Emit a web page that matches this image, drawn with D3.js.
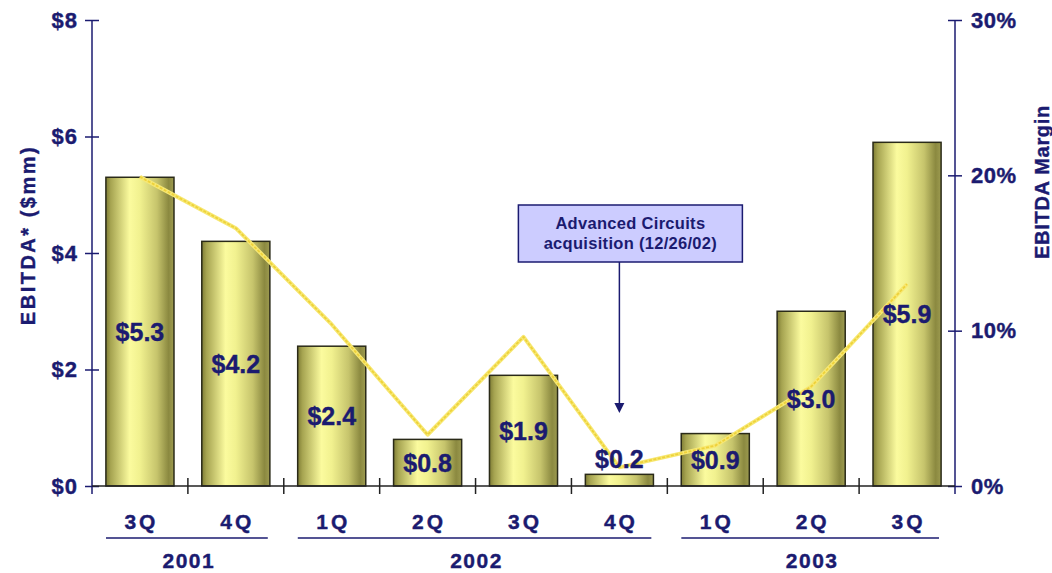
<!DOCTYPE html>
<html>
<head>
<meta charset="utf-8">
<script src="https://cdn.jsdelivr.net/npm/d3@7"></script>
<style>
  html, body { margin: 0; padding: 0; background: #fff; }
  svg { display: block; }
  .heavy { stroke: #1b1b70; stroke-width: 0.4px; }
</style>
</head>
<body>
<div id="chart"></div>
<script>
const quarters = ['3Q', '4Q', '1Q', '2Q', '3Q', '4Q', '1Q', '2Q', '3Q'];
const quarterYears = ['2001', '2001', '2002', '2002', '2002', '2002', '2003', '2003', '2003'];
const ebitda = [5.3, 4.2, 2.4, 0.8, 1.9, 0.2, 0.9, 3.0, 5.9];
const ebitdaMargin = [19.9, 16.6, 10.4, 3.3, 9.6, 1.2, 2.6, 6.4, 13.0];
const ebitdaTicks = [0, 2, 4, 6, 8];
const marginTicks = [0, 10, 20, 30];
const annotationLines = ['Advanced Circuits', 'acquisition (12/26/02)'];
const annotationIndex = 5;

const width = 1052;
const height = 573;
const plot = { left: 92, right: 955, top: 20, bottom: 486 };
const navy = '#1b1b70';
const font = '"Liberation Sans", Arial, Helvetica, sans-serif';

const svg = d3.select('#chart')
  .append('svg')
  .attr('width', width)
  .attr('height', height)
  .style('font-family', font)
  .style('font-weight', 'bold');

const defs = svg.append('defs');
const gradient = defs.append('linearGradient')
  .attr('id', 'bar-gradient')
  .attr('x1', '0%')
  .attr('x2', '100%');

[
  [0, '#7f7d35'], [0.07, '#a6a451'], [0.35, '#fbfb9e'], [0.5, '#f1f18f'],
  [0.75, '#c6c46c'], [0.92, '#8b8940'], [1, '#9d9b50']
].forEach(([offset, color]) => {
  gradient.append('stop').attr('offset', offset).attr('stop-color', color);
});

const x = d3.scaleBand()
  .domain(d3.range(quarters.length))
  .range([plot.left, plot.right])
  .paddingInner(0.29)
  .paddingOuter(0.145);

const y = d3.scaleLinear().domain([0, 8]).range([plot.bottom, plot.top]);
const yMargin = d3.scaleLinear().domain([0, 30]).range([plot.bottom, plot.top]);

const step = x.step();
const bandLeft = (i) => plot.left + i * step;
const center = (i) => x(i) + x.bandwidth() / 2;

// bars
svg.append('g')
  .selectAll('rect')
  .data(ebitda)
  .join('rect')
  .attr('x', (d, i) => x(i))
  .attr('y', (d) => y(d))
  .attr('width', x.bandwidth())
  .attr('height', (d) => y(0) - y(d))
  .attr('fill', 'url(#bar-gradient)')
  .attr('stroke', '#2a2a18')
  .attr('stroke-width', 1.5);

// margin line
const line = d3.line()
  .x((d, i) => center(i))
  .y((d) => yMargin(d));

svg.append('path')
  .datum(ebitdaMargin)
  .attr('fill', 'none')
  .attr('stroke', '#f7e873')
  .attr('stroke-width', 4)
  .attr('stroke-linejoin', 'round')
  .attr('d', line);

svg.append('path')
  .datum(ebitdaMargin)
  .attr('fill', 'none')
  .attr('stroke', '#eed23a')
  .attr('stroke-width', 1.8)
  .attr('stroke-dasharray', '3 1.5')
  .attr('stroke-linejoin', 'round')
  .attr('d', line);

// bar value labels
svg.append('g')
  .selectAll('text')
  .data(ebitda)
  .join('text')
  .attr('class', 'heavy')
  .attr('x', (d, i) => center(i))
  .attr('y', (d) => (y(0) - y(d) < 30 ? y(d) - 15 : (y(d) + y(0)) / 2))
  .attr('text-anchor', 'middle')
  .attr('dominant-baseline', 'central')
  .attr('fill', navy)
  .style('font-size', '25px')
  .text((d) => `$${d.toFixed(1)}`);

// left axis
const axisLeft = svg.append('g')
  .attr('transform', `translate(${plot.left},0)`)
  .call(d3.axisLeft(y).tickValues(ebitdaTicks).tickSize(7).tickSizeOuter(0).tickPadding(7)
    .tickFormat((d) => `$${d}`))
  .attr('font-family', font)
  .attr('font-size', 22);

axisLeft.select('.domain').remove();
axisLeft.selectAll('.tick line').attr('x1', 7).attr('stroke', navy).attr('stroke-width', 1.5);
axisLeft.selectAll('.tick text').attr('fill', navy).attr('class', 'heavy').style('letter-spacing', '1px');

// right axis
const axisRight = svg.append('g')
  .attr('transform', `translate(${plot.right},0)`)
  .call(d3.axisRight(yMargin).tickValues(marginTicks).tickSize(7).tickSizeOuter(0).tickPadding(9)
    .tickFormat((d) => `${d}%`))
  .attr('font-family', font)
  .attr('font-size', 22);

axisRight.select('.domain').remove();
axisRight.selectAll('.tick line').attr('x1', -7).attr('stroke', navy).attr('stroke-width', 1.5);
axisRight.selectAll('.tick text').attr('fill', navy).attr('class', 'heavy').style('letter-spacing', '0.5px');

// axis lines
[plot.left, plot.right].forEach((px) => {
  svg.append('line')
    .attr('x1', px).attr('x2', px)
    .attr('y1', plot.top).attr('y2', plot.bottom + 8)
    .attr('stroke', navy).attr('stroke-width', 1.5);
});

svg.append('line')
  .attr('x1', plot.left).attr('x2', plot.right)
  .attr('y1', plot.bottom).attr('y2', plot.bottom)
  .attr('stroke', '#222').attr('stroke-width', 1.5);

svg.append('g')
  .selectAll('line')
  .data(d3.range(1, quarters.length))
  .join('line')
  .attr('x1', (i) => bandLeft(i))
  .attr('x2', (i) => bandLeft(i))
  .attr('y1', plot.bottom - 8)
  .attr('y2', plot.bottom + 8)
  .attr('stroke', '#222')
  .attr('stroke-width', 1.5);

// quarter labels
svg.append('g')
  .selectAll('text')
  .data(quarters)
  .join('text')
  .attr('class', 'heavy')
  .attr('x', (d, i) => center(i) + 1.5)
  .attr('y', 521)
  .attr('text-anchor', 'middle')
  .attr('dominant-baseline', 'central')
  .attr('fill', navy)
  .style('font-size', '21px')
  .style('letter-spacing', '3px')
  .text((d) => d);

// year groups
const yearGroups = d3.groups(quarterYears.map((year, i) => ({ year, i })), (d) => d.year)
  .map(([year, items]) => ({
    year,
    start: bandLeft(items[0].i),
    end: bandLeft(items[items.length - 1].i + 1)
  }));

const years = svg.append('g');

years.selectAll('line')
  .data(yearGroups)
  .join('line')
  .attr('x1', (d) => d.start + 14)
  .attr('x2', (d) => d.end - 16)
  .attr('y1', 538)
  .attr('y2', 538)
  .attr('stroke', navy)
  .attr('stroke-width', 1.5);

years.selectAll('text')
  .data(yearGroups)
  .join('text')
  .attr('class', 'heavy')
  .attr('x', (d) => (d.start + d.end) / 2 + 1)
  .attr('y', 560)
  .attr('text-anchor', 'middle')
  .attr('dominant-baseline', 'central')
  .attr('fill', navy)
  .style('font-size', '21px')
  .style('letter-spacing', '1.5px')
  .text((d) => d.year);

// axis titles
svg.append('text')
  .attr('class', 'heavy')
  .attr('transform', `translate(28,${235}) rotate(-90)`)
  .attr('text-anchor', 'middle')
  .attr('dominant-baseline', 'central')
  .attr('fill', navy)
  .style('font-size', '20px')
  .style('letter-spacing', '2.5px')
  .text('EBITDA* ($mm)');

svg.append('text')
  .attr('class', 'heavy')
  .attr('transform', `translate(1042,${182}) rotate(-90)`)
  .attr('text-anchor', 'middle')
  .attr('dominant-baseline', 'central')
  .attr('fill', navy)
  .style('font-size', '20px')
  .style('letter-spacing', '0.7px')
  .text('EBITDA Margin');

// annotation
const ax = center(annotationIndex);
const box = { left: ax - 101, top: 205, width: 224, height: 57 };
const note = svg.append('g');

note.append('rect')
  .attr('x', box.left)
  .attr('y', box.top)
  .attr('width', box.width)
  .attr('height', box.height)
  .attr('fill', '#ccccff')
  .attr('stroke', navy)
  .attr('stroke-width', 1.5);

note.selectAll('text')
  .data(annotationLines)
  .join('text')
  .attr('x', box.left + box.width / 2)
  .attr('y', (d, i) => box.top + 18 + i * 20)
  .attr('text-anchor', 'middle')
  .attr('dominant-baseline', 'central')
  .attr('fill', navy)
  .style('font-size', '16.5px')
  .style('letter-spacing', '0.3px')
  .text((d) => d);

note.append('line')
  .attr('x1', ax).attr('x2', ax)
  .attr('y1', box.top + box.height)
  .attr('y2', 405)
  .attr('stroke', navy)
  .attr('stroke-width', 1.5);

note.append('path')
  .attr('d', `M${ax - 5},403 L${ax + 5},403 L${ax},413 Z`)
  .attr('fill', navy);
</script>
</body>
</html>
